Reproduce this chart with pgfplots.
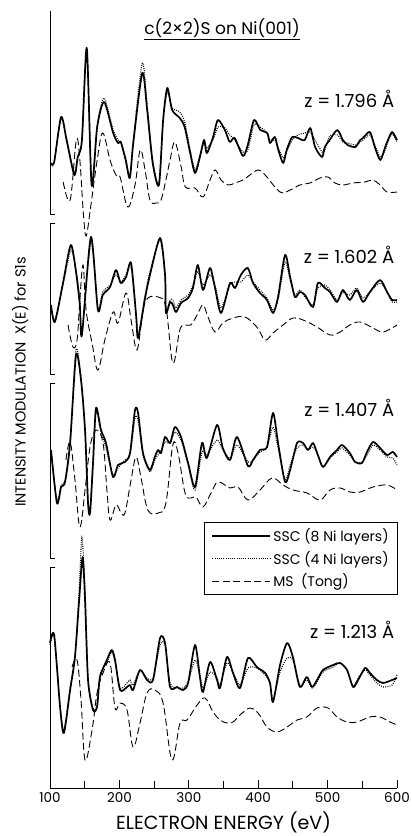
\documentclass[border=0pt]{standalone}
\usepackage{fontspec}
\setmainfont{Poppins}
\usepackage{pgfplots}
\pgfplotsset{compat=1.18}
\begin{document}
\begin{tikzpicture}
\useasboundingbox (0,0) rectangle (412pt,836pt);
\begin{axis}[
  at={(50pt,48pt)}, anchor=south west,
  scale only axis, width=347pt, height=777pt,
  xmin=100, xmax=600, ymin=-788, ymax=-11,
  axis x line*=bottom, axis y line=none,
  clip=false,
  xtick={100,200,...,600}, minor xtick={150,250,...,550},
  tick align=inside, major tick length=8pt, minor tick length=7pt,
  tick style={black, line width=0.8pt},
  x axis line style={line width=0.9pt},
  ytick=\empty,
  /pgf/number format/assume math mode=true,
  xticklabel style={font=\fontsize{13.5}{13.5}\selectfont, yshift=-1pt},
  xlabel={ELECTRON ENERGY (eV)},
  xlabel style={font=\fontsize{19}{19}\selectfont, yshift=-2pt},
  legend style={at={(1.003,0.342)}, anchor=north east, draw=black, line width=0.8pt,
    font=\fontsize{14}{15}\selectfont, inner xsep=7pt, inner ysep=4pt,
    row sep=4pt, cells={anchor=west}},
  legend image code/.code={\draw[#1] (0pt,0pt) -- (58pt,0pt);},
  solid8/.style={black, line width=1.7pt, line join=round, smooth, tension=0.45},
  dot4/.style={black, line width=1.1pt, dash pattern=on 0.9pt off 1.3pt, smooth, tension=0.45},
  ms/.style={black, line width=0.9pt, dash pattern=on 7pt off 3.5pt, smooth, tension=0.6},
]
% legend entries
\addlegendimage{solid8}\addlegendentry{SSC (8 Ni layers)}
\addlegendimage{dot4}\addlegendentry{SSC (4 Ni layers)}
\addlegendimage{ms}\addlegendentry{MS\ \ (Tong)}

% ---------------- panel 1: z = 1.796
\addplot[solid8] coordinates {(101,-163)(106,-162)(116,-117)(124,-140)(135,-175)(140,-157)(146,-140)(153,-48)(160,-185)(168,-127)(178,-102)(191,-133)(198,-143)(202,-142)(209,-160)(215,-178)(220,-143)(233,-73)(240,-110)(248,-163)(257,-185)(263,-120)(269,-88)(276,-110)(287,-118)(294,-127)(302,-153)(309,-173)(316,-157)(322,-140)(326,-153)(335,-137)(342,-120)(352,-130)(359,-142)(366,-138)(378,-156)(385,-145)(394,-120)(403,-130)(413,-133)(417,-143)(424,-137)(429,-150)(436,-163)(441,-150)(449,-137)(457,-138)(467,-140)(475,-128)(482,-147)(492,-157)(496,-147)(503,-140)(514,-130)(522,-140)(529,-145)(540,-147)(547,-140)(551,-138)(561,-132)(568,-147)(576,-160)(583,-147)(587,-140)(593,-132)(600,-140)};
\addplot[dot4] coordinates {(101,-165)(106,-163)(116,-118)(124,-142)(135,-172)(140,-156)(146,-142)(153,-50)(160,-183)(168,-125)(178,-98)(191,-130)(198,-140)(202,-142)(209,-158)(215,-176)(220,-140)(233,-63)(240,-105)(248,-160)(257,-183)(263,-122)(269,-92)(276,-108)(287,-112)(294,-122)(302,-150)(309,-170)(316,-155)(322,-143)(326,-148)(335,-140)(342,-127)(352,-128)(359,-135)(366,-140)(378,-152)(385,-150)(394,-125)(403,-127)(413,-133)(417,-140)(424,-140)(429,-148)(436,-158)(441,-152)(449,-140)(457,-135)(467,-133)(475,-132)(482,-140)(492,-152)(496,-150)(503,-136)(514,-135)(522,-142)(529,-143)(540,-145)(547,-142)(551,-140)(561,-135)(568,-145)(576,-157)(583,-150)(587,-142)(593,-134)(600,-142)};
\addplot[ms] coordinates {(119,-182)(129,-200)(138,-140)(143,-160)(148,-213)(152,-236)(158,-210)(168,-160)(176,-133)(186.5,-160)(195,-175)(201,-177)(212,-207)(222.5,-185)(230,-150)(237,-170)(244,-200)(253,-203)(260,-200)(267,-180)(273,-160)(280,-142)(289,-167)(295,-187)(309,-188)(320.5,-197)(330.6,-180)(338,-170)(346.5,-180)(356.5,-185)(366.6,-183)(378,-180)(388,-175)(400,-170)(410,-175)(431.5,-192)(446,-190)(460,-185)(474.7,-183)(489,-178)(500.6,-177)(510.7,-183)(522,-185)(536.7,-183)(554,-182)(565.5,-180)(575.6,-185)(585.7,-192)(600,-192)};

% ---------------- panel 2: z = 1.602
\addplot[solid8] coordinates {(101.5,-305)(107,-322)(119,-282)(130,-245)(137.5,-272)(143,-305)(146,-335)(159,-237)(169,-310)(176,-295)(186.5,-287)(195,-270)(202,-283)(209.6,-277)(216.8,-263)(224,-315)(227,-338)(237,-298)(244,-275)(258.6,-238)(265.8,-275)(267,-313)(273,-302)(277,-305)(281.6,-312)(288.8,-303)(299,-298)(306,-288)(313,-265)(320.5,-290)(330.6,-268)(337.8,-288)(346.5,-313)(359.4,-283)(366.6,-288)(375,-275)(385,-268)(392.6,-283)(402.6,-293)(412.7,-300)(421.4,-313)(428.6,-297)(438.7,-255)(446,-277)(453,-297)(460,-292)(467.5,-295)(479,-307)(486,-283)(496,-288)(503.5,-292)(513.6,-302)(522,-290)(532,-300)(542,-290)(551,-302)(561,-292)(575.6,-280)(585.7,-292)(593,-300)(600,-300)};
\addplot[dot4] coordinates {(101.5,-307)(107,-320)(119,-284)(130,-250)(137.5,-270)(143,-300)(146,-332)(159,-242)(169,-308)(176,-292)(186.5,-285)(195,-275)(202,-282)(209.6,-275)(216.8,-268)(224,-312)(227,-335)(237,-295)(244,-272)(258.6,-240)(265.8,-278)(267,-310)(273,-300)(277,-300)(281.6,-308)(288.8,-300)(299,-295)(306,-285)(313,-272)(320.5,-285)(330.6,-275)(337.8,-285)(346.5,-308)(359.4,-285)(366.6,-282)(375,-282)(385,-275)(392.6,-282)(402.6,-290)(412.7,-298)(421.4,-310)(428.6,-300)(438.7,-262)(446,-280)(453,-295)(460,-290)(467.5,-297)(479,-305)(486,-288)(496,-285)(503.5,-290)(513.6,-300)(522,-292)(532,-295)(542,-288)(551,-298)(561,-292)(575.6,-283)(585.7,-292)(593,-302)(600,-302)};
\addplot[ms] coordinates {(126,-325)(133,-347)(139,-340)(143,-300)(147.6,-265)(152,-310)(160.6,-343)(169,-370)(179,-340)(191,-312)(198,-323)(209.6,-293)(216.8,-320)(225.4,-350)(234,-310)(241,-298)(255.7,-297)(267,-307)(277,-363)(287,-330)(294.6,-325)(303,-325)(312,-315)(320.5,-305)(327.7,-317)(337.8,-332)(349,-323)(363.7,-318)(381,-317)(398,-327)(410,-340)(421.4,-333)(435.8,-325)(450,-318)(464.6,-320)(484.8,-327)(503.5,-335)(518,-332)(532,-325)(546.8,-322)(565.5,-328)(580,-332)(600,-325)};

% ---------------- panel 3: z = 1.407
\addplot[solid8] coordinates {(101.5,-450)(110,-503)(116,-487)(121.7,-482)(129,-443)(137.5,-355)(144.7,-380)(150.5,-430)(154.8,-503)(157.7,-513)(162,-463)(166.3,-408)(173.5,-430)(180.7,-443)(190.8,-477)(198,-465)(208,-462)(215.3,-453)(222.5,-410)(226.9,-413)(234,-453)(244,-470)(251,-457)(255.7,-450)(260,-453)(265.8,-437)(273,-443)(280,-427)(288.8,-437)(299,-463)(309,-487)(319,-443)(326,-458)(340.7,-425)(349,-448)(359.4,-460)(369.5,-437)(385.3,-466)(392.6,-460)(402.6,-450)(412.7,-447)(421.4,-413)(428.6,-443)(438.7,-482)(446,-470)(456,-443)(464.6,-443)(471.8,-450)(479,-443)(486,-455)(493.4,-467)(503.5,-457)(513.6,-450)(520.8,-445)(532,-453)(539.6,-462)(549.6,-463)(556.8,-452)(565.5,-442)(575.6,-448)(585.7,-455)(594,-452)(600,-457)};
\addplot[dot4] coordinates {(101.5,-452)(110,-500)(116,-485)(121.7,-480)(129,-440)(137.5,-350)(144.7,-378)(150.5,-432)(154.8,-500)(157.7,-510)(162,-460)(166.3,-412)(173.5,-432)(180.7,-448)(190.8,-475)(198,-468)(208,-460)(215.3,-455)(222.5,-418)(226.9,-420)(234,-455)(244,-472)(251,-460)(255.7,-455)(260,-450)(265.8,-442)(273,-443)(280,-432)(288.8,-440)(299,-465)(309,-490)(319,-452)(326,-455)(340.7,-440)(349,-450)(359.4,-458)(369.5,-445)(385.3,-462)(392.6,-460)(402.6,-452)(412.7,-447)(421.4,-427)(428.6,-448)(438.7,-480)(446,-465)(456,-448)(464.6,-445)(471.8,-450)(479,-447)(486,-455)(493.4,-467)(503.5,-458)(513.6,-452)(520.8,-448)(532,-455)(539.6,-462)(549.6,-462)(556.8,-455)(565.5,-445)(575.6,-450)(585.7,-457)(594,-458)(600,-465)};
\addplot[ms] coordinates {(123,-460)(129,-442)(136,-480)(143,-527)(150.5,-490)(157.7,-447)(166.3,-430)(176.4,-443)(182,-490)(186.5,-520)(195,-505)(202,-512)(208,-513)(216.8,-480)(224,-457)(231,-477)(241,-510)(255.7,-513)(267,-503)(277,-445)(284.5,-453)(294.6,-493)(303,-498)(310.4,-497)(320.5,-507)(332,-493)(342,-482)(359.4,-488)(371,-487)(385.3,-500)(402.6,-490)(420,-478)(435.8,-485)(450,-490)(470.4,-493)(489,-500)(503.5,-490)(518,-488)(532,-492)(546.8,-492)(565.5,-487)(585.7,-485)(600,-490)};

% ---------------- panel 4: z = 1.213
\addplot[solid8] coordinates {(100,-643)(106,-635)(114.5,-707)(120,-733)(129,-690)(136,-657)(142,-600)(147,-557)(150.5,-600)(154.8,-680)(162,-710)(167.8,-707)(172,-677)(182,-660)(189,-650)(193.7,-660)(201,-690)(211,-687)(215.3,-685)(219.7,-690)(229.7,-670)(239.8,-680)(248.5,-680)(258.6,-638)(265.8,-643)(273,-687)(283,-687)(291.7,-690)(299,-683)(309,-645)(316,-677)(320.5,-692)(330.6,-662)(340.7,-680)(345,-688)(355,-657)(363.7,-673)(373.8,-688)(385.3,-658)(398,-667)(410,-673)(417,-683)(421.4,-702)(431.5,-665)(441.6,-643)(450,-657)(460,-687)(470,-677)(477.6,-687)(484.8,-680)(493.4,-670)(508,-665)(518,-663)(528,-670)(536.7,-687)(544,-680)(554,-668)(561,-673)(571,-680)(580,-683)(593,-680)(600,-678)};
\addplot[dot4] coordinates {(100,-645)(106,-637)(114.5,-705)(120,-730)(129,-688)(136,-655)(142,-590)(146,-538)(150.5,-590)(154.8,-678)(162,-708)(167.8,-705)(172,-675)(182,-662)(189,-652)(193.7,-662)(201,-688)(211,-683)(215.3,-680)(219.7,-685)(229.7,-670)(239.8,-678)(248.5,-678)(258.6,-645)(265.8,-645)(273,-683)(283,-688)(291.7,-688)(299,-682)(309,-660)(316,-675)(320.5,-688)(330.6,-672)(340.7,-678)(345,-685)(355,-663)(363.7,-672)(373.8,-685)(385.3,-668)(398,-668)(410,-675)(417,-683)(421.4,-700)(431.5,-672)(441.6,-658)(450,-660)(460,-685)(470,-680)(477.6,-688)(484.8,-682)(493.4,-672)(508,-667)(518,-663)(528,-670)(536.7,-686)(544,-678)(554,-670)(561,-675)(571,-683)(580,-687)(593,-685)(600,-675)};
\addplot[ms] coordinates {(131.8,-667)(139,-660)(144.7,-700)(150.5,-760)(160.6,-730)(167.8,-693)(176.4,-673)(186.5,-663)(193.7,-708)(201,-703)(211,-710)(219.7,-747)(229.7,-723)(239.8,-693)(251,-690)(262.9,-703)(275.8,-760)(287.4,-723)(297.5,-720)(312,-705)(323.4,-698)(335,-712)(345,-720)(355,-723)(363.7,-722)(373.8,-715)(388,-708)(399.8,-713)(412.7,-727)(427,-732)(441.6,-727)(456,-720)(470,-717)(484.8,-708)(500.6,-708)(513.6,-717)(528,-722)(542.4,-722)(561,-717)(575.6,-717)(590,-722)(600,-725)};

% left axis, broken into brackets
\draw[line width=0.9pt] (axis cs:100,-11) -- (axis cs:100,-214) -- (axis cs:107,-214);
\draw[line width=0.9pt] (axis cs:107,-223) -- (axis cs:100,-223) -- (axis cs:100,-374) -- (axis cs:107,-374);
\draw[line width=0.9pt] (axis cs:107,-383) -- (axis cs:100,-383) -- (axis cs:100,-558) -- (axis cs:107,-558);
\draw[line width=0.9pt] (axis cs:107,-567) -- (axis cs:100,-567) -- (axis cs:100,-788);

% labels
\node[font=\fontsize{17}{17}\selectfont] at (axis cs:348,-29) {\underline{c(2×2)S on Ni(001)}};
\node[anchor=east, font=\fontsize{18}{18}\selectfont] at (axis cs:601,-99) {z = 1.796 Å};
\node[anchor=east, font=\fontsize{18}{18}\selectfont] at (axis cs:601,-255) {z = 1.602 Å};
\node[anchor=east, font=\fontsize{18}{18}\selectfont] at (axis cs:601,-408) {z = 1.407 Å};
\node[anchor=east, font=\fontsize{18}{18}\selectfont] at (axis cs:601,-630) {z = 1.213 Å};
\node[rotate=90, font=\fontsize{14.5}{14.5}\selectfont] at (axis cs:57,-382) {INTENSITY MODULATION\ \ X(E) for S1s};
\end{axis}
\end{tikzpicture}
\end{document}
